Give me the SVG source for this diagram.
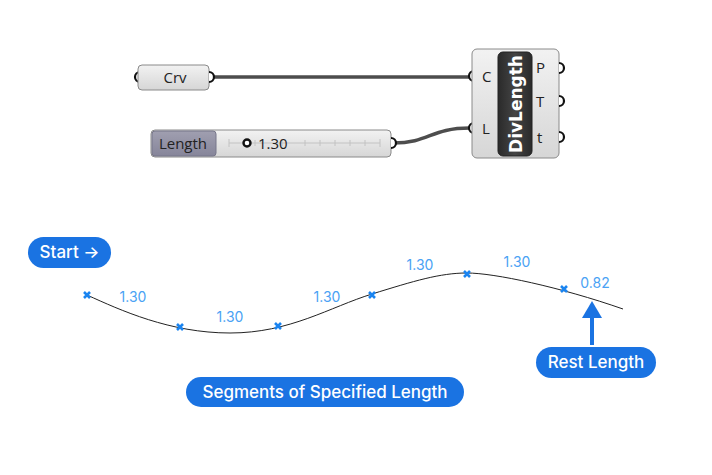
<svg xmlns="http://www.w3.org/2000/svg" width="712" height="475" viewBox="0 0 712 475">
<defs>
<linearGradient id="gbody" x1="0" y1="0" x2="0" y2="1"><stop offset="0" stop-color="#f2f2f2"/><stop offset="1" stop-color="#d6d6d6"/></linearGradient>
<linearGradient id="gdark" x1="0" y1="0" x2="1" y2="0"><stop offset="0" stop-color="#2a2a2a"/><stop offset="0.5" stop-color="#444"/><stop offset="1" stop-color="#2a2a2a"/></linearGradient>
<linearGradient id="glab" x1="0" y1="0" x2="0" y2="1"><stop offset="0" stop-color="#a09fb0"/><stop offset="1" stop-color="#86859a"/></linearGradient>
<g id="x"><path d="M-3,-3 L3,3 M-3,3 L3,-3" stroke="#1a84f0" stroke-width="2.6"/></g>
</defs>
<style>
.body{fill:url(#gbody);stroke:#8a8a8a;stroke-width:1}
.grip{fill:#fff;stroke:#111;stroke-width:2.2}
.wire{fill:none;stroke:#4d4d4d;stroke-width:3.5}
.gh{font-family:"Open Sans","Noto Sans",sans-serif;font-size:15px;fill:#222}
.val{font-family:Inter,sans-serif;font-size:14px;fill:#4aa2f4}
.pill{fill:#1a73e2}
.pt{font-family:Inter,sans-serif;font-size:17px;fill:#fff;font-weight:500}
</style>
<g id="connectors">
<path class="wire" d="M211,77 L470,77"/>
<path class="wire" d="M393,143 C430,143 430,128 470,128"/>
<path d="M87,295 C120,310 170,333 230,333 S330,307 372,294 S440,273 467,273 S560,287 623,309" fill="none" stroke="#222" stroke-width="1"/>
<path d="M592,345 L592,316" stroke="#1a73e2" stroke-width="4"/>
<polygon points="592,301 602,318 582,318" fill="#1a73e2"/>
</g>
<g id="crv">
<path class="grip" d="M140,72 A5,5 0 0 0 140,82"/>
<rect class="body" x="138" y="65" width="71" height="25" rx="4"/>
<text class="gh" x="175" y="83" text-anchor="middle">Crv</text>
<path class="grip" d="M209,72 A5,5 0 0 1 209,82"/>
</g>
<g id="length">
<rect class="body" x="151" y="130" width="240" height="27" rx="4"/>
<rect x="152" y="131" width="64" height="25" rx="3" fill="url(#glab)" stroke="#77768a"/>
<text class="gh" x="183" y="149" text-anchor="middle">Length</text>
<path d="M229,143 L380,143 M229,139 V147 M255,140 V146 M282,140 V146 M305,140 V146 M320,140 V146 M335,140 V146 M350,140 V146 M365,140 V146 M380,139 V147" stroke="#c2c2c2" stroke-width="1"/>
<circle cx="247" cy="143" r="3.5" fill="#fff" stroke="#111" stroke-width="2.4"/>
<text class="gh" x="258" y="149">1.30</text>
<path class="grip" d="M391,138 A5,5 0 0 1 391,148"/>
</g>
<g id="divlength">
<path class="grip" d="M474,71 A5,5 0 0 0 474,81"/>
<path class="grip" d="M474,123 A5,5 0 0 0 474,133"/>
<rect class="body" x="472" y="49" width="87" height="109" rx="5"/>
<rect x="498" y="52" width="34" height="104" rx="5" fill="url(#gdark)" stroke="#222"/>
<text x="0" y="0" transform="translate(522,104) rotate(-90)" text-anchor="middle" font-family="'DejaVu Sans',sans-serif" font-weight="bold" font-size="17" fill="#fff">DivLength</text>
<text class="gh" x="482" y="82">C</text>
<text class="gh" x="482" y="134">L</text>
<text class="gh" x="536" y="73">P</text>
<text class="gh" x="536" y="107">T</text>
<text class="gh" x="537" y="143">t</text>
<path class="grip" d="M559,63 A5,5 0 0 1 559,73"/>
<path class="grip" d="M559,96 A5,5 0 0 1 559,106"/>
<path class="grip" d="M559,132 A5,5 0 0 1 559,142"/>
</g>
<g id="points">
<use href="#x" x="87" y="295"/>
<use href="#x" x="180" y="327"/>
<use href="#x" x="278" y="326"/>
<use href="#x" x="372" y="295"/>
<use href="#x" x="467" y="274"/>
<use href="#x" x="564" y="289"/>
<text class="val" x="133" y="302" text-anchor="middle">1.30</text>
<text class="val" x="230" y="322" text-anchor="middle">1.30</text>
<text class="val" x="327" y="302" text-anchor="middle">1.30</text>
<text class="val" x="420" y="270" text-anchor="middle">1.30</text>
<text class="val" x="517" y="267" text-anchor="middle">1.30</text>
<text class="val" x="595" y="288" text-anchor="middle">0.82</text>
</g>
<g id="start">
<rect class="pill" x="28" y="237" width="83" height="31" rx="15.5"/>
<text class="pt" x="69.5" y="258" text-anchor="middle">Start →</text>
</g>
<g id="rest">
<rect class="pill" x="536" y="347" width="120" height="31" rx="15.5"/>
<text class="pt" x="596" y="368" text-anchor="middle">Rest Length</text>
</g>
<g id="segments">
<rect class="pill" x="186" y="377" width="278" height="30" rx="15"/>
<text class="pt" x="325" y="398" text-anchor="middle">Segments of Specified Length</text>
</g>
</svg>
